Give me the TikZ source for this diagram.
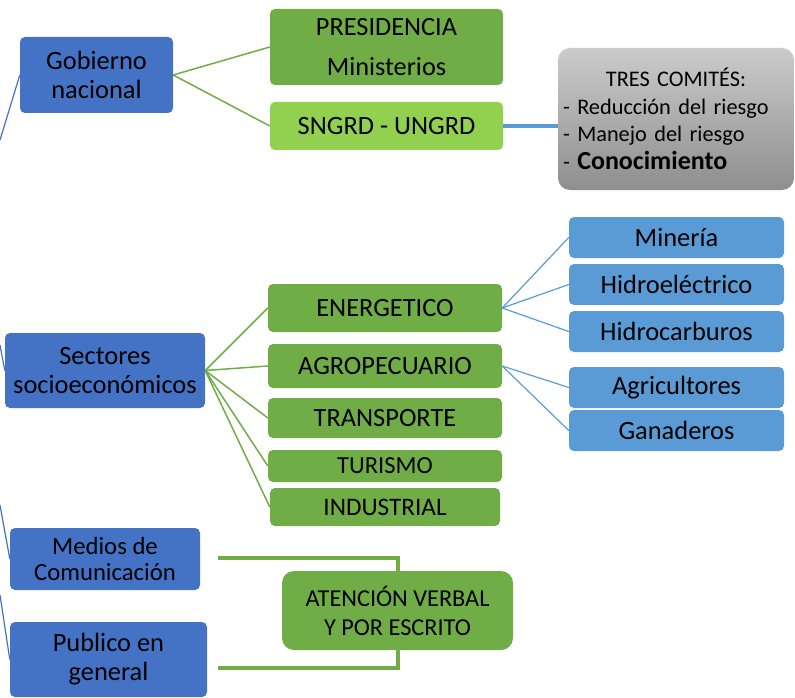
\documentclass[tikz,border=0pt]{standalone}
\usepackage{fontspec}
\setmainfont{Carlito}
\definecolor{dblue}{HTML}{4472C4}
\definecolor{lblue}{HTML}{5B9BD5}
\definecolor{dgreen}{HTML}{70AD47}
\definecolor{lgreen}{HTML}{92D050}
\definecolor{gtop}{HTML}{CBCBCB}
\definecolor{gbot}{HTML}{8E8E8E}
\begin{document}
\begin{tikzpicture}[x=1pt,y=-1pt,
  box/.style={rounded corners=5pt, inner sep=0pt, align=center, text=black,
    font=\fontsize{26.4}{29}\selectfont},
  bbox/.style={box, fill=dblue},
  cbox/.style={box, fill=lblue},
  gbox/.style={box, fill=dgreen},
  lgbox/.style={box, fill=lgreen},
  gline/.style={draw=dgreen, line width=1.5pt},
  bline/.style={draw=lblue, line width=1.2pt},
  dline/.style={draw=dblue, line width=1.2pt},
  thick green/.style={draw=dgreen, line width=4pt},
]
\useasboundingbox (0,0) rectangle (795,698);

% left column
\node[bbox, minimum width=153pt, minimum height=76pt] (gob) at (96.5,75) {Gobierno\\nacional};
\node[bbox, minimum width=200pt, minimum height=75pt] (sec) at (105,370.5) {Sectores\\socioeconómicos};
\node[bbox, minimum width=190pt, minimum height=62pt, font=\fontsize{24.7}{26}\selectfont] (med) at (105,559) {Medios de\\Comunicación};
\node[bbox, minimum width=197pt, minimum height=75pt] (pub) at (108.5,659.5) {Publico en\\general};

% middle column
\node[gbox, minimum width=233pt, minimum height=76pt, font=\fontsize{26.3}{40}\selectfont] (pres) at (386.5,47) {PRESIDENCIA\\Ministerios};
\node[lgbox, minimum width=233pt, minimum height=48pt] (sng) at (386.5,126) {SNGRD - UNGRD};
\node[gbox, minimum width=234pt, minimum height=48pt] (ener) at (385,308) {ENERGETICO};
\node[gbox, minimum width=234pt, minimum height=44pt] (agro) at (385,366) {AGROPECUARIO};
\node[gbox, minimum width=234pt, minimum height=40pt] (trans) at (385,418) {TRANSPORTE};
\node[gbox, minimum width=234pt, minimum height=32pt, font=\fontsize{24.5}{28}\selectfont] (tur) at (385,466) {TURISMO};
\node[gbox, minimum width=230pt, minimum height=38pt, font=\fontsize{25.2}{28}\selectfont] (ind) at (385,507) {INDUSTRIAL};
\node[gbox, rounded corners=12pt, minimum width=231pt, minimum height=79pt, font=\fontsize{24.3}{29}\selectfont] (aten) at (397.5,610.5) {ATENCIÓN VERBAL\\Y POR ESCRITO};

% right column
\node[box, rounded corners=12pt, top color=gtop, bottom color=gbot, draw=none,
  minimum width=236pt, minimum height=142pt, text width=226pt, inner sep=5pt, align=left,
  font=\fontsize{22.3}{27.5}\selectfont] (tres) at (676,119)
  {\makebox[226pt][c]{TRES COMITÉS:}\\- Reducción del riesgo\\- Manejo del riesgo\\- {\fontsize{26}{27.5}\selectfont\textbf{Conocimiento}}};
\node[cbox, minimum width=215pt, minimum height=41pt] (min) at (676.5,237.5) {Minería};
\node[cbox, minimum width=215pt, minimum height=41pt] (hel) at (676.5,284.5) {Hidroeléctrico};
\node[cbox, minimum width=215pt, minimum height=41pt] (hca) at (676.5,331.5) {Hidrocarburos};
\node[cbox, minimum width=215pt, minimum height=41pt] (agr) at (676.5,387.5) {Agricultores};
\node[cbox, minimum width=215pt, minimum height=41pt] (gan) at (676.5,430.5) {Ganaderos};

% free ends
\coordinate (l1) at (0,140);
\coordinate (l2) at (0,345);
\coordinate (l3) at (0,505);
\coordinate (l4) at (0,595);
\coordinate (m1) at (218,558);
\coordinate (m2) at (218,668);

% connectors
\path[dline] (l1) -- (gob.west);
\path[dline] (l2) -- (sec.west);
\path[dline] (l3) -- (med.west);
\path[dline] (l4) -- (pub.west);

\path[gline] (gob.east) -- (pres.west);
\path[gline] (gob.east) -- (sng.west);
\path[draw=lblue, line width=4pt] (sng.east) -- (tres.west |- sng.east);

\path[gline] (sec.east) -- (ener.west);
\path[gline] (sec.east) -- (agro.west);
\path[gline] (sec.east) -- (trans.west);
\path[gline] (sec.east) -- (tur.west);
\path[gline] (sec.east) -- (ind.west);

\path[bline] (ener.east) -- (min.west);
\path[bline] (ener.east) -- (hel.west);
\path[bline] (ener.east) -- (hca.west);
\path[bline] (agro.east) -- (agr.west);
\path[bline] (agro.east) -- (gan.west);

\path[thick green] (m1) -| (aten.north);
\path[thick green] (m2) -| (aten.south);
\end{tikzpicture}
\end{document}
